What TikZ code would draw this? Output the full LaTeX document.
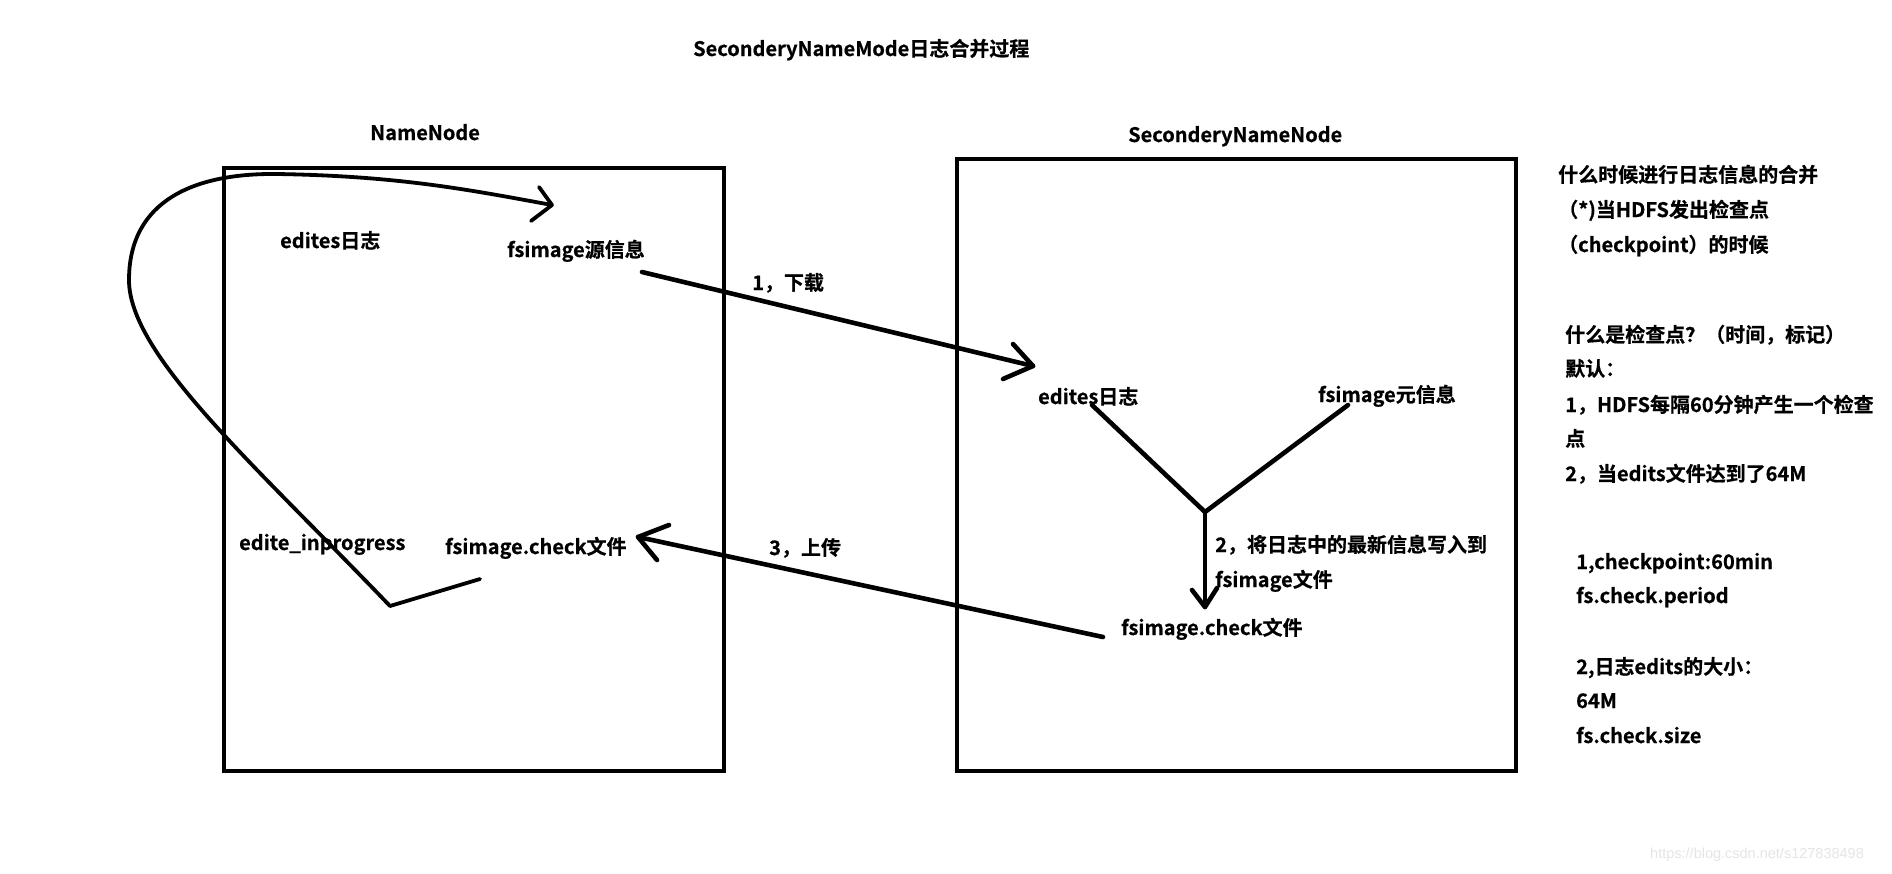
\documentclass[tikz,border=0pt]{standalone}
\usepackage{fontspec}
\setmainfont{Noto Sans CJK SC}[BoldFont={* Bold},BoldFeatures={FakeBold=0.6}]
\newfontfamily\wmfont{Liberation Sans}
\begin{document}
\begin{tikzpicture}[x=1pt,y=-1pt,
  txt/.style={anchor=base west,inner sep=0pt,font=\fontsize{20}{24}\selectfont\bfseries},
  boxline/.style={line width=4.5pt},
  hand/.style={line width=4.6pt,line cap=round,line join=round},
  curveline/.style={line width=3.8pt,line cap=round,line join=round}]
\useasboundingbox (0,0) rectangle (1892,873);
\fill[white] (0,0) rectangle (1892,873);

% title and box labels
\node[txt] (title) at (693,56) {SeconderyNameMode日志合并过程};
\node[txt] (nnlabel) at (370,140) {NameNode};
\node[txt] (snnlabel) at (1128,142) {SeconderyNameNode};

% boxes
\draw[boxline] (224,168) rectangle (724,771);
\draw[boxline] (957,159) rectangle (1516,771);

% left box texts
\node[txt] (edL) at (280,248) {edites日志};
\node[txt] (fsL) at (507,257) {fsimage源信息};
\node[txt] (edip) at (239,550) {edite\_inprogress};
\node[txt] (chkL) at (445,554) {fsimage.check文件};

% right box texts
\node[txt] (edR) at (1038,404) {edites日志};
\node[txt] (fsR) at (1318,402) {fsimage元信息};
\node[txt] (chkR) at (1121,635) {fsimage.check文件};
\node[txt] (lbl2a) at (1215,552) {2，将日志中的最新信息写入到};
\node[txt] (lbl2b) at (1215,587) {fsimage文件};

% arrow labels
\node[txt] (lbl1) at (752,290) {1，下载};
\node[txt] (lbl3) at (769,555) {3，上传};

% coordinates for connectors
\coordinate (a1s) at (642,272);
\coordinate (a1t) at (1033,366);
\coordinate (a3s) at (1103,637);
\coordinate (a3t) at (638,537);
\coordinate (yl) at (1092,405);
\coordinate (yr) at (1348,405);
\coordinate (yj) at (1205,512);
\coordinate (yt) at (1205,607);
\coordinate (cs) at (480,579);
\coordinate (cv) at (390,606);
\coordinate (cl) at (129,280);
\coordinate (ctop) at (277,174);
\coordinate (ct) at (552,205);

% arrow 1 (download)
\draw[hand] (a1s) -- (a1t);
\draw[hand] (1013,344) -- (a1t) -- (1003,379);

% arrow 3 (upload)
\draw[hand] (a3s) -- (a3t);
\draw[hand] (669,525) -- (a3t) -- (657,560);

% merge Y
\draw[hand] (yl) -- (yj) -- (yr);
\draw[hand] (yj) -- (yt);
\draw[hand] (1192,590) -- (yt) -- (1217,588);

% big curve
\draw[curveline] (cs) -- (cv)
  .. controls (255,465) and (129,355) .. (cl)
  .. controls (129,200) and (195,173) .. (ctop)
  .. controls (400,176) and (470,190) .. (ct);
\draw[curveline] (539,187) -- (ct) -- (531,221);

% right-hand notes
\node[txt] (n1) at (1558,182) {什么时候进行日志信息的合并};
\node[txt] (n2) at (1558,217) {（*)当HDFS发出检查点};
\node[txt] (n3) at (1558,252) {（checkpoint）的时候};
\node[txt] (n4) at (1565,342) {什么是检查点？（时间，标记）};
\node[txt] (n5) at (1565,376) {默认：};
\node[txt] (n6) at (1565,412) {1，HDFS每隔60分钟产生一个检查};
\node[txt] (n7) at (1565,446) {点};
\node[txt] (n8) at (1565,481) {2，当edits文件达到了64M};
\node[txt] (n9) at (1576,569) {1,checkpoint:60min};
\node[txt] (n10) at (1576,603) {fs.check.period};
\node[txt] (n11) at (1576,674) {2,日志edits的大小：};
\node[txt] (n12) at (1576,708) {64M};
\node[txt] (n13) at (1576,743) {fs.check.size};

% watermark
\node[anchor=base west,inner sep=0pt,text=black!10,font=\wmfont\fontsize{14.5}{16}\selectfont] (wm) at (1650,858) {https://blog.csdn.net/s127838498};
\end{tikzpicture}
\end{document}
